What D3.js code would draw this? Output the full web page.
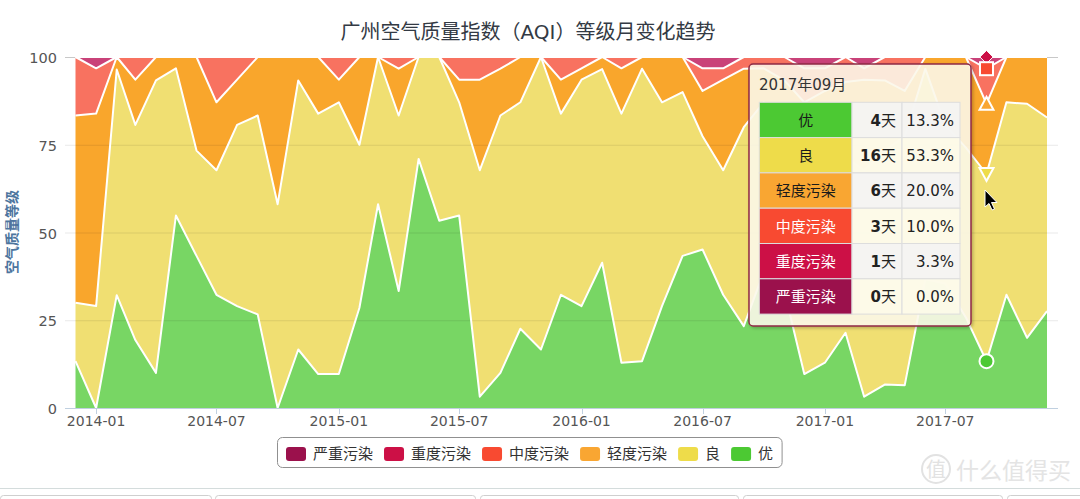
<!DOCTYPE html>
<html><head><meta charset="utf-8">
<script src="https://cdn.jsdelivr.net/npm/d3@7"></script>
<style>
body{margin:0;background:#fff;}
svg{display:block;font-family:"DejaVu Sans","Noto Sans CJK SC",sans-serif;}
</style></head><body>
<svg id="c" width="1080" height="499"></svg>
<script>
// ---------- data (days per month) ----------
const months = ["2013-12","2014-01","2014-02","2014-03","2014-04","2014-05","2014-06","2014-07","2014-08","2014-09","2014-10","2014-11","2014-12",
"2015-01","2015-02","2015-03","2015-04","2015-05","2015-06","2015-07","2015-08","2015-09","2015-10","2015-11","2015-12",
"2016-01","2016-02","2016-03","2016-04","2016-05","2016-06","2016-07","2016-08","2016-09","2016-10","2016-11","2016-12",
"2017-01","2017-02","2017-03","2017-04","2017-05","2017-06","2017-07","2017-08","2017-09","2017-10","2017-11","2017-12"];
const levels = ["优","良","轻度污染","中度污染","重度污染","严重污染"];
const you      = [4,0,9,6,3,17,13,10,9,8,0,5,3, 3,8,18,10,22,16,17,1,3,7,5,10, 9,12,4,4,9,13,14,10,7,12,10,3, 4,6,1,2,2,11,11,8,4,10,6,8];
const liang    = [5,9,18,19,25,13,9,11,16,17,18,23,23, 24,13,13,15,9,14,10,20,22,20,25,16, 20,16,22,25,18,14,10,11,17,15,13,15, 17,14,20,20,22,18,14,15,16,17,20,16];
const qingdu   = [16,17,1,4,2,1,8,6,4,5,13,2,5, 2,7,0,4,0,0,2,8,4,4,0,3, 1,1,4,1,4,3,4,8,5,3,5,9, 7,6,8,6,4,1,6,8,6,4,4,5];
const zhongdu  = [5,4,0,2,0,0,0,4,2,0,0,0,0, 2,0,0,1,0,0,2,2,1,0,0,2, 1,0,1,0,0,0,2,1,1,1,2,3, 2,2,1,2,3,0,0,0,3,0,0,0];
const zhongdu2 = [0,1,0,0,0,0,0,0,0,0,0,0,0, 0,0,0,0,0,0,0,0,0,0,0,0, 0,0,0,0,0,0,1,1,0,0,0,1, 1,0,1,0,0,0,0,0,1,0,0,0];
const yanzhong = [0,0,0,0,0,0,0,0,0,0,0,0,0, 0,0,0,0,0,0,0,0,0,0,0,0, 0,0,0,0,0,0,0,0,0,0,0,0, 0,0,0,0,0,0,0,0,0,0,0,0];
const yTicks = [0,25,50,75,100];
const titleText = "广州空气质量指数（AQI）等级月变化趋势";
const yTitleText = "空气质量等级";
const hoverMonth = "2017-09";
const hoverTitle = "2017年09月";

// ---------- styles ----------
const areaColors = {"优":"#78d664","良":"#f0df72","轻度污染":"#f9a62c","中度污染":"#f87260","重度污染":"#c94279","严重污染":"#a8305e"};
const solidColors = {"优":"#4cc933","良":"#eedc4a","轻度污染":"#f9a632","中度污染":"#f84a31","重度污染":"#cc1046","严重污染":"#9b114c"};
const cellText = {"优":"#1a1a1a","良":"#1a1a1a","轻度污染":"#1a1a1a","中度污染":"#fff","重度污染":"#fff","严重污染":"#fff"};

const seriesArr = [you, liang, qingdu, zhongdu, zhongdu2, yanzhong];
const parse = d3.timeParse("%Y-%m");
const data = months.map((m,i)=>{
  const o = {date: parse(m), month: m};
  levels.forEach((k,j)=>o[k]=seriesArr[j][i]);
  return o;
});

const svg = d3.select("#c");
const plotL = 65, plotR = 1058, plotT = 57, plotB = 408;
const x = d3.scaleTime().domain([data[0].date, data[data.length-1].date]).range([75.5, 1047]);
const y = d3.scaleLinear().domain([0,100]).range([plotB, plotT]);

const stack = d3.stack().keys(levels).offset(d3.stackOffsetExpand);
const stacked = stack(data);

const area = d3.area().x(d=>x(d.data.date)).y0(d=>y(d[0]*100)).y1(d=>y(d[1]*100));
const line = d3.line().x(d=>x(d.data.date)).y(d=>y(d[1]*100));

// areas
svg.append("g").selectAll("path").data(stacked).join("path")
  .attr("d", area).attr("fill", s=>areaColors[s.key]);

// grid lines
svg.append("g").selectAll("line").data(yTicks).join("line")
  .attr("x1", plotL).attr("x2", plotR)
  .attr("y1", d=>y(d)+0.5).attr("y2", d=>y(d)+0.5)
  .attr("stroke", d=> d===100 ? "#c8c8c8" : "rgba(0,0,0,0.09)").attr("stroke-width",1);

// white lines
svg.append("g").selectAll("path").data(stacked.slice(0,5)).join("path")
  .attr("d", line).attr("fill","none").attr("stroke","#fff").attr("stroke-width",2).attr("stroke-linejoin","round");

// x axis
svg.append("line").attr("x1",plotL).attr("x2",plotR).attr("y1",plotB+0.5).attr("y2",plotB+0.5).attr("stroke","#c0d0e0");
const xt = x.ticks(d3.timeMonth.every(6)).filter(d=>d>=data[0].date);
const fmt = d3.timeFormat("%Y-%m");
const gx = svg.append("g");
gx.selectAll("line").data(xt).join("line")
  .attr("x1",d=>Math.round(x(d))+0.5).attr("x2",d=>Math.round(x(d))+0.5)
  .attr("y1",plotB).attr("y2",plotB+6).attr("stroke","#c0d0e0");
gx.selectAll("text").data(xt).join("text")
  .attr("x",d=>x(d)).attr("y",426).attr("text-anchor","middle")
  .attr("font-size",14).attr("fill","#555").text(d=>fmt(d));

// y labels
svg.append("g").selectAll("text").data(yTicks).join("text")
  .attr("x",57).attr("y",d=>y(d)+6).attr("text-anchor","end")
  .attr("font-size",14.5).attr("fill","#555").text(d=>d);

// y title
svg.append("text").attr("transform","translate(17,232) rotate(-90)")
  .attr("text-anchor","middle").attr("font-size",14).attr("font-weight","bold")
  .attr("fill","#4d759e").text(yTitleText);

// title
svg.append("text").attr("x",528).attr("y",39).attr("text-anchor","middle")
  .attr("font-size",20).attr("fill","#333a44").text(titleText);

// legend
const lg = svg.append("g");
const legendOrder = levels.slice().reverse();
const box = lg.append("rect").attr("x",277.5).attr("y",437.5).attr("height",30).attr("rx",5)
  .attr("fill","#fff").attr("stroke","#909090");
let lx = 286;
legendOrder.forEach(k=>{
  lg.append("rect").attr("x",lx).attr("y",447).attr("width",20).attr("height",14).attr("rx",3).attr("fill",solidColors[k]);
  const t = lg.append("text").attr("x",lx+27).attr("y",459).attr("font-size",15).attr("fill","#333").text(k);
  const w = t.node().getComputedTextLength();
  lx += 27 + w + 11;
});
box.attr("width", lx - 11 + 9 - 277.5);

// hover markers
const hi = months.indexOf(hoverMonth);
const hx = x(data[hi].date);
const mk = svg.append("g");
const topOf = k => y(stacked[levels.indexOf(k)][hi][1]*100);
mk.append("path").attr("d", d3.symbol(d3.symbolDiamond2, 110)())
  .attr("transform",`translate(${hx},${topOf("重度污染")})`).attr("fill",solidColors["重度污染"]).attr("stroke","#fff").attr("stroke-width",1);
mk.append("rect").attr("x",hx-6.5).attr("y",topOf("中度污染")-6.5).attr("width",13).attr("height",13)
  .attr("fill",solidColors["中度污染"]).attr("stroke","#fff").attr("stroke-width",2);
const tri = (cx,cy,up)=> up ? `M${cx},${cy-7}L${cx+7},${cy+6}L${cx-7},${cy+6}Z` : `M${cx},${cy+7}L${cx+7},${cy-6}L${cx-7},${cy-6}Z`;
mk.append("path").attr("d", tri(hx, topOf("轻度污染"), true)).attr("fill",solidColors["轻度污染"]).attr("stroke","#fff").attr("stroke-width",2);
mk.append("path").attr("d", tri(hx, topOf("良"), false)).attr("fill",solidColors["良"]).attr("stroke","#fff").attr("stroke-width",2);
mk.append("circle").attr("cx",hx).attr("cy",topOf("优")).attr("r",7)
  .attr("fill",solidColors["优"]).attr("stroke","#fff").attr("stroke-width",2);

// tooltip
const defs = svg.append("defs");
const f = defs.append("filter").attr("id","sh").attr("x","-10%").attr("y","-10%").attr("width","130%").attr("height","130%");
f.append("feDropShadow").attr("dx",1.5).attr("dy",1.5).attr("stdDeviation",1.5).attr("flood-color","#000").attr("flood-opacity",0.25);
const tt = svg.append("g");
tt.append("rect").attr("x",749).attr("y",64).attr("width",222).attr("height",262).attr("rx",4)
  .attr("fill","rgba(255,251,238,0.86)").attr("stroke","#8e2a45").attr("stroke-width",1.5).attr("filter","url(#sh)");
tt.append("text").attr("x",759).attr("y",90).attr("font-size",15).attr("fill","#333").text(hoverTitle);
const total = levels.reduce((s,k)=>s+data[hi][k],0);
const rowH = 35.3, tTop = 102.3, c0 = 759.3, c1 = 852, c2 = 902, c3 = 960;
levels.forEach((k,i)=>{
  const ry = tTop + i*rowH;
  const bg = i%2===0 ? "rgba(244,244,244,0.9)" : "rgba(253,250,234,0.85)";
  tt.append("rect").attr("x",c0).attr("y",ry).attr("width",c1-c0).attr("height",rowH).attr("fill",solidColors[k]).attr("stroke","#ddd");
  tt.append("rect").attr("x",c1).attr("y",ry).attr("width",c2-c1).attr("height",rowH).attr("fill",bg).attr("stroke","#ddd");
  tt.append("rect").attr("x",c2).attr("y",ry).attr("width",c3-c2).attr("height",rowH).attr("fill",bg).attr("stroke","#ddd");
  tt.append("text").attr("x",(c0+c1)/2).attr("y",ry+23.5).attr("text-anchor","middle").attr("font-size",15)
    .attr("fill",cellText[k]).text(k);
  const v = data[hi][k];
  const dt = tt.append("text").attr("x",c2-6).attr("y",ry+23.5).attr("text-anchor","end").attr("font-size",15).attr("fill","#222");
  dt.append("tspan").attr("font-weight","bold").text(v);
  dt.append("tspan").text("天");
  tt.append("text").attr("x",c3-6).attr("y",ry+23.5).attr("text-anchor","end").attr("font-size",15).attr("fill","#222")
    .text((v/total*100).toFixed(1)+"%");
});

// cursor
svg.append("path").attr("d","M0,0L0,17L4,13.5L7,20L9.5,19L6.5,12.5L12,12.5Z")
  .attr("transform","translate(985,190)").attr("fill","#000").attr("stroke","#fff").attr("stroke-width",1);

// watermark
const wm = svg.append("g").attr("fill","none");
wm.append("circle").attr("cx",936).attr("cy",469).attr("r",14).attr("stroke","#e2e2e2").attr("stroke-width",2);
wm.append("text").attr("x",936).attr("y",477).attr("text-anchor","middle").attr("font-size",20).attr("fill","#e2e2e2").text("值");
wm.append("text").attr("x",956).attr("y",479).attr("font-size",23).attr("fill","#e4e4e4").text("什么值得买");

// bottom page strip
svg.append("line").attr("x1",0).attr("x2",1080).attr("y1",488.5).attr("y2",488.5).attr("stroke","#d4dcdc");
[[0,211],[215,475],[480,738],[743,1002],[1007,1090]].forEach(([a,b])=>{
  svg.append("rect").attr("x",a+0.5).attr("y",495.5).attr("width",b-a).attr("height",12).attr("rx",3)
    .attr("fill","#fff").attr("stroke","#cfcfcf");
});
</script></body></html>
